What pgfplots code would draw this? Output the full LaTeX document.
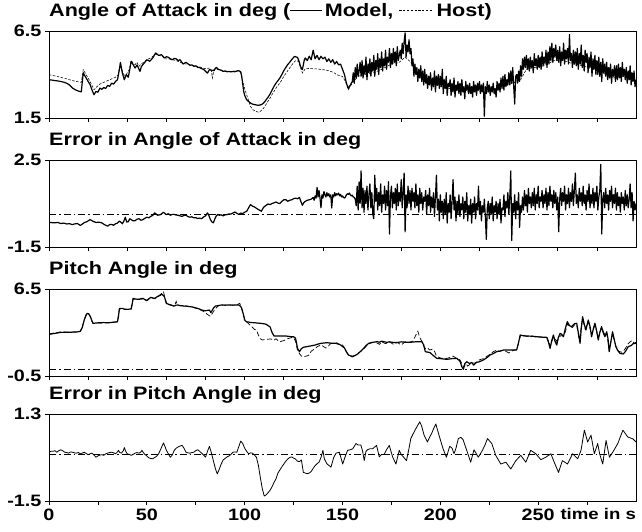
\documentclass[border=0pt]{standalone}
\usepackage{fontspec}
\setmainfont{Liberation Sans}[FakeStretch=1.2]
\usepackage{pgfplots}
\pgfplotsset{compat=1.18}
\newcommand{\solidsample}{\rule[0.3em]{1.75em}{1pt}}
\newcommand{\dashsample}{\leavevmode\xleaders\hbox{\rule[0.3em]{2.2pt}{0.6pt}\hspace{1.4pt}}\hskip 1.9em\relax}
\pgfplotsset{
 panel/.style={
  scale only axis, width=587pt, height=87pt, xmin=0, xmax=300,
  axis line style={black, line width=0.7pt},
  tick align=outside, major tick length=4pt, minor tick length=4pt,
  tick style={black, line width=0.7pt},
  xtick={0,20,...,280}, xticklabels={},
  ticklabel style={font=\bfseries\fontsize{16.5}{16.5}\selectfont},
  ytick pos=left, xtick pos=bottom,
  title style={at={(0,1)}, anchor=base west, yshift=9pt, inner sep=0pt, font=\bfseries\fontsize{18}{20}\selectfont},
  clip=true,
 },
 model/.style={black, line width=1.2pt, line join=round},
 host/.style={black, line width=0.55pt, dash pattern=on 2.5pt off 1.5pt},
 zero/.style={black, line width=0.6pt, dash pattern=on 7pt off 3pt on 1.5pt off 3pt},
}
\begin{document}
\begin{tikzpicture}
\path[use as bounding box] (0,0) rectangle (642pt,-531pt);
% ---------------- Panel 1 ----------------
\begin{axis}[panel, at={(49pt,-118pt)}, anchor=south west, ymin=1.5, ymax=6.5,
  ytick={1.5,6.5}, yticklabels={1.5,6.5},
  title={Angle of Attack in deg (\solidsample\,Model, \dashsample\,Host)}]
\addplot[host] coordinates {(0,3.99)(3,3.92)(6,3.84)(9,3.75)(12,3.65)(14,3.6)(16.5,3.55)(17.5,4.28)(19,3.99)(21,3.6)(23,3.13)(24.5,3.3)(26,3.45)(28,3.55)(30,3.65)(32,3.75)(34,3.84)(35.5,4.0)(36.5,4.76)(37.5,4.18)(38.5,3.95)(39.5,4.0)(41,4.28)(42,4.8)(43,4.65)(44,4.57)(45,4.7)(46,4.47)(47,4.6)(48,4.67)(50,4.85)(52,4.95)(54.5,5.18)(56,5.1)(58,5.05)(59,4.9)(61,4.9)(63,4.85)(65,4.8)(68,4.66)(70,4.6)(72,4.57)(74,4.52)(76,4.47)(78,4.4)(80,4.33)(82,4.37)(83,4.2)(83.5,3.8)(84,4.1)(85,4.33)(86.5,4.28)(88,4.22)(90,4.2)(92,4.18)(95,4.2)(97,4.22)(98,4.1)(99,3.61)(100,3.2)(101,2.84)(102,2.5)(103,2.17)(104,2.0)(105,1.92)(106,1.87)(107,1.84)(108,1.88)(109,1.98)(110,2.12)(111,2.3)(112,2.48)(113,2.65)(114,2.85)(115,3.03)(116.5,3.3)(118,3.51)(119,3.7)(120,3.89)(121,4.05)(122,4.22)(123,4.38)(124,4.53)(125,4.68)(126,4.8)(127.5,4.76)(128.5,4.4)(129.5,4.09)(130.5,4.25)(131,4.33)(133,4.35)(135,4.33)(137,4.32)(140,4.28)(142,4.24)(144,4.18)(146,4.08)(147,3.99)(149,3.92)(150,3.89)(151.5,3.6)(153,3.13)(155,3.51)(158,3.9)(162,4.0)(166,4.1)(170,4.3)(175,4.6)(179,4.7)(182,5.0)(185,4.7)(188,4.0)(192,3.6)(197,3.4)(202,3.3)(207,3.1)(212,3.0)(217,3.0)(222,3.0)(227,3.0)(232,3.3)(237,3.5)(241,3.7)(244,4.3)(248,4.4)(253,4.5)(258,4.8)(263,4.8)(268,4.6)(273,4.5)(278,4.3)(283,4.1)(288,3.8)(293,3.9)(298,3.7)(300,3.6)};
\addplot[model] coordinates {(0,3.70)(1.5,3.68)(3,3.65)(4.5,3.63)(6,3.6)(7.5,3.56)(9,3.5)(10.5,3.4)(12,3.22)(13.5,3.12)(15,3.05)(16.5,3.0)(17.5,4.1)(18.2,3.95)(19,3.8)(20,3.6)(21,3.42)(22,3.1)(23,2.84)(24,3.03)(25,2.98)(26,3.22)(27,3.15)(28,3.25)(29,3.2)(30,3.38)(31,3.32)(32,3.5)(33,3.45)(34,3.6)(35,3.7)(35.5,4.0)(36.5,4.66)(37.5,4.09)(38.5,3.7)(39.5,4.0)(40.5,3.84)(41.3,4.3)(42,4.76)(43,4.57)(44,4.37)(45,4.55)(46,4.3)(46.5,4.18)(47.2,4.45)(48,4.57)(49,4.7)(50,4.85)(51.5,4.76)(53,4.95)(54.5,5.24)(56,5.1)(57.5,5.14)(59,4.95)(60,5.02)(61,4.99)(62,4.9)(63,4.85)(64,4.92)(65,4.9)(66,4.8)(67,4.85)(68.5,4.6)(70,4.7)(71,4.62)(72,4.53)(73,4.55)(74,4.47)(75,4.5)(76,4.41)(77,4.4)(78,4.33)(79,4.3)(80,4.18)(81,4.08)(82,4.28)(83,4.25)(84,4.22)(85.5,4.41)(86.5,4.3)(87,4.28)(88,4.25)(89,4.18)(90,4.2)(91,4.16)(92,4.17)(93,4.15)(94,4.17)(95,4.16)(96,4.2)(97,4.22)(98,4.15)(98.5,3.89)(99.5,3.03)(100,2.8)(101,2.55)(102,2.45)(103,2.36)(104,2.3)(105,2.27)(106,2.25)(107,2.23)(108,2.25)(109,2.3)(110,2.4)(111,2.55)(112,2.7)(113,2.88)(114,3.1)(115,3.32)(116,3.5)(117,3.65)(118,3.8)(119,4.0)(120,4.22)(121,4.4)(122,4.57)(123,4.7)(124,4.85)(125,4.98)(125.5,5.04)(126.5,5.0)(127,4.99)(128,4.7)(128.5,4.47)(129.5,4.28)(130.5,4.85)(131,4.95)(132,4.8)(133,5.05)(134,4.85)(135,5.4)(136,4.9)(137,5.1)(138,4.85)(139,5.05)(140,4.9)(141,5.0)(142,4.75)(143,4.9)(144,4.7)(145,4.85)(146,4.6)(147,4.75)(148,4.55)(149,4.6)(150,4.3)(151,4.0)(152,3.5)(153,3.2)(154,3.4)
(155,3.6)(155.5,4.1)(156,3.5)(156.5,4.4)(157,3.8)(157.5,4.6)(158,3.9)(158.5,4.2)(159,4.7)(159.5,3.9)
(160,4.8)(160.5,3.8)(161,4.5)(161.5,4.0)(162,5.0)(162.5,3.7)(163,4.6)(163.5,4.1)(164,4.9)(164.5,3.9)
(165,4.7)(165.5,4.2)(166,5.1)(166.5,3.9)(167,4.8)(167.5,4.3)(168,5.2)(168.5,4.0)(169,4.9)(169.5,4.4)
(170,5.3)(170.5,4.2)(171,4.9)(171.5,4.5)(172,5.4)(172.5,4.3)(173,5.0)(173.5,4.7)(174,5.5)(174.5,4.4)
(175,5.2)(175.5,4.6)(176,5.5)(176.5,4.7)(177,5.3)(177.5,4.5)(178,5.6)(178.5,4.8)(179,5.1)(179.5,5.4)
(180,4.9)(180.5,5.8)(181,5.2)(181.5,5.9)(182,6.4)(182.5,5.0)(183,5.7)(183.5,5.3)(184,6.0)(184.5,5.2)
(185,5.5)(185.5,4.5)(186,4.9)(186.5,3.9)(187,4.6)(187.5,4.0)(188,4.4)(188.5,3.6)(189,4.3)(189.5,3.8)
(190,4.5)(190.5,3.6)(191,4.2)(191.5,3.4)(192,4.3)(192.5,3.5)(193,4.0)(193.5,3.2)(194,3.9)(194.5,3.4)
(195,4.1)(195.5,3.1)(196,3.8)(196.5,3.3)(197,4.2)(197.5,3.0)(198,3.9)(198.5,3.4)(199,4.0)(199.5,3.2)
(200,3.9)(200.5,3.3)(201,4.3)(201.5,2.9)(202,3.7)(202.5,3.2)(203,3.9)(203.5,2.8)(204,3.5)(204.5,3.3)
(205,3.7)(205.5,2.8)(206,3.5)(206.5,3.0)(207,3.8)(207.5,2.7)(208,3.4)(208.5,3.1)(209,3.6)(209.5,2.9)
(210,3.5)(210.5,2.8)(211,3.7)(211.5,3.0)(212,3.3)(212.5,2.6)(213,3.6)(213.5,3.1)(214,3.4)(214.5,2.9)
(215,3.5)(215.5,2.9)(216,3.3)(216.5,2.7)(217,3.6)(217.5,3.0)(218,3.4)(218.5,2.8)(219,3.5)(219.5,3.1)
(220,3.6)(220.5,2.9)(221,3.4)(221.5,3.0)(222,3.5)(222.5,1.6)(223,3.3)(223.5,2.9)(224,3.6)(224.5,3.0)
(225,3.4)(225.5,2.8)(226,3.3)(226.5,3.0)(227,3.5)(227.5,2.9)(228,3.2)(228.5,2.7)(229,3.6)(229.5,3.1)
(230,3.5)(230.5,3.0)(231,3.8)(231.5,3.2)(232,3.9)(232.5,3.1)(233,4.0)(233.5,3.3)(234,3.7)(234.5,3.4)
(235,4.1)(235.5,3.4)(236,4.2)(236.5,3.5)(237,4.4)(237.5,3.3)(238,2.3)(238.5,3.9)(239,4.0)(239.5,3.5)
(240,4.2)(240.5,3.6)(241,4.5)(241.5,3.9)(242,4.9)(242.5,4.3)(243,5.0)(243.5,4.4)(244,5.1)(244.5,4.3)
(245,4.9)(245.5,4.2)(246,5.0)(246.5,4.4)(247,4.8)(247.5,4.1)(248,5.2)(248.5,4.5)(249,4.9)(249.5,4.3)
(250,5.1)(250.5,4.4)(251,5.0)(251.5,4.3)(252,5.3)(252.5,4.5)(253,5.0)(253.5,4.6)(254,5.4)(254.5,4.4)
(255,5.3)(255.5,4.6)(256,5.6)(256.5,4.8)(257,5.8)(257.5,4.7)(258,5.5)(258.5,5.0)(259,5.7)(259.5,4.8)
(260,5.4)(260.5,4.7)(261,5.6)(261.5,4.5)(262,5.3)(262.5,4.8)(263,5.8)(263.5,4.6)(264,5.4)(264.5,4.9)
(265,5.5)(265.5,4.6)(266,6.3)(266.5,4.8)(267,5.2)(267.5,4.4)(268,5.4)(268.5,4.6)(269,5.3)(269.5,4.5)
(270,5.5)(270.5,4.3)(271,5.2)(271.5,4.6)(272,5.7)(272.5,4.4)(273,5.1)(273.5,4.2)(274,5.4)(274.5,4.7)
(275,5.2)(275.5,4.1)(276,5.0)(276.5,4.4)(277,5.3)(277.5,3.9)(278,4.9)(278.5,4.3)(279,5.1)(279.5,4.0)
(280,4.8)(280.5,4.0)(281,5.0)(281.5,3.9)(282,4.7)(282.5,3.6)(283,4.9)(283.5,4.1)(284,4.6)(284.5,3.9)
(285,4.7)(285.5,3.7)(286,4.4)(286.5,3.8)(287,4.6)(287.5,3.5)(288,4.3)(288.5,3.9)(289,4.5)(289.5,3.6)
(290,4.5)(290.5,3.7)(291,4.6)(291.5,3.8)(292,4.4)(292.5,3.6)(293,4.7)(293.5,3.9)(294,4.3)(294.5,3.7)
(295,4.4)(295.5,3.5)(296,4.2)(296.5,3.7)(297,4.5)(297.5,3.4)(298,4.1)(298.5,3.6)(299,4.2)(299.5,3.3)(300,3.7)};
\end{axis}
% ---------------- Panel 2 ----------------
\begin{axis}[panel, at={(49pt,-247pt)}, anchor=south west, ymin=-1.5, ymax=2.5,
  ytick={-1.5,2.5}, yticklabels={-1.5,2.5},
  title={Error in Angle of Attack in deg}]
\addplot[zero] coordinates {(0,0) (300,0)};
\addplot[model, line width=1.2pt] coordinates {(0,-0.36)(1.5,-0.38)(3,-0.39)(4.5,-0.37)(6,-0.42)(7.5,-0.4)(9,-0.44)(10.5,-0.43)(12,-0.47)(13,-0.44)(14.5,-0.42)(16,-0.51)(17,-0.45)(18,-0.38)(19.5,-0.33)(21,-0.24)(22.5,-0.32)(24,-0.37)(25.5,-0.36)(27,-0.39)(28.5,-0.48)(30,-0.54)(31,-0.47)(32,-0.46)(33,-0.5)(34,-0.43)(35,-0.4)(36,-0.31)(37,-0.38)(37.5,-0.43)(38.3,-0.3)(39,-0.13)(39.7,-0.35)(40.5,-0.34)(41.3,-0.2)(42,-0.24)(43,-0.3)(44,-0.29)(45,-0.22)(46,-0.2)(47,-0.27)(48,-0.24)(49,-0.18)(50,-0.13)(51,-0.16)(52,-0.09)(53,-0.05)(54,0.07)(55,0.0)(55.5,-0.04)(56.5,-0.02)(57,-0.01)(58,0.06)(58.5,0.1)(59.5,0.02)(60,-0.01)(61,0.03)(62,-0.04)(63,0.0)(64,0.0)(65,-0.03)(66,-0.04)(67,-0.07)(68,-0.09)(69,-0.05)(70,-0.04)(71,-0.1)(72,-0.13)(73,-0.11)(74,-0.16)(75,-0.15)(76,-0.19)(77,-0.17)(78,-0.2)(79,-0.12)(80,-0.07)(81,0.07)(81.7,-0.05)(82.5,-0.24)(83.3,-0.35)(84,-0.39)(84.8,-0.2)(85.5,-0.07)(86.3,0.0)(87,-0.04)(88,-0.02)(89,-0.07)(90,-0.02)(91,-0.01)(92,0.02)(93,0.02)(94,0.06)(95,0.11)(96,0.05)(97,0.0)(98,0.06)(99,0.04)(100,0.1)(101,0.14)(102,0.3)(103,0.45)(104,0.38)(105,0.34)(106,0.28)(107,0.22)(108,0.18)(108.5,0.14)(109.5,0.3)(110,0.35)(111,0.42)(112,0.48)(113,0.45)(114,0.5)(115,0.53)(116,0.57)(117,0.52)(118,0.5)(119,0.6)(120,0.67)(121,0.68)(122,0.6)(123,0.65)(124,0.67)(125,0.72)(126,0.75)(127,0.72)(128,0.78)(128.7,0.6)(129.5,0.42)(130.3,0.55)(131,0.6)(132,0.65)(133,0.67)(134,0.7)(135,0.78)(135.5,0.65)(136,0.85)(136.5,0.75)(137,1.24)(137.5,0.8)(138,1.1)(138.5,0.75)(139,0.3)(139.5,0.9)(140,0.75)(140.5,1.05)(141,0.9)(141.5,0.8)(142,1.0)(142.5,0.85)(143,0.95)(143.5,0.8)(144,0.9)(144.5,0.29)(145,0.9)(145.5,0.8)(146,1.0)(146.5,0.85)(147,0.95)(147.5,0.9)(148,0.98)(148.5,0.85)(149,0.92)(149.5,0.8)(150,0.85)(150.5,0.78)
(151,0.75)(151.5,0.8)(152,0.9)(152.5,0.95)(153,0.92)(153.5,0.98)(154,0.9)(154.5,0.85)(155,0.88)(155.5,0.8)(156,0.78)(156.5,0.7)
(157,0.4)(157.5,1.3)(158,0.2)(158.5,1.5)(159,0.5)(159.5,2.0)(160,0.3)(160.5,1.2)(161,0.1)(161.5,1.1)
(162,0.5)(162.5,1.3)(163,0.2)(163.5,0.9)(164,1.4)(164.5,0.3)(165,1.0)(165.5,0.0)(166,-0.2)(166.5,1.8)
(167,0.6)(167.5,1.2)(168,0.2)(168.5,1.0)(169,0.4)(169.5,1.4)(170,0.1)(170.5,0.9)(171,0.5)(171.5,1.3)
(172,0.2)(172.5,1.1)(173,0.4)(173.5,1.5)(174,-0.9)(174.5,0.8)(175,1.3)(175.5,0.3)(176,1.0)(176.5,0.5)
(177,1.2)(177.5,0.2)(178,1.4)(178.5,0.4)(179,1.0)(179.5,0.6)(180,1.6)(180.5,0.3)(181,1.1)(181.5,1.9)
(182,-0.8)(182.5,0.9)(183,0.3)(183.5,1.3)(184,0.5)(184.5,1.1)(185,0.2)(185.5,1.2)(186,0.6)(186.5,1.0)
(187,0.3)(187.5,1.4)(188,0.4)(188.5,0.9)(189,0.1)(189.5,1.2)(190,0.5)(190.5,1.0)(191,0.2)(191.5,0.8)
(192,0.6)(192.5,1.1)(193,0.0)(193.5,0.9)(194,0.4)(194.5,1.2)(195,0.1)(195.5,0.8)(196,0.3)(196.5,1.0)
(197,-0.1)(197.5,0.8)(198,1.8)(198.5,0.2)(199,0.7)(199.5,-0.3)(200,0.9)(200.5,0.1)(201,0.6)(201.5,-0.2)
(202,0.7)(202.5,0.0)(203,1.0)(203.5,-0.4)(204,0.5)(204.5,0.1)(205,0.9)(205.5,-0.2)(206,0.6)(206.5,1.6)
(207,0.2)(207.5,0.8)(208,-0.3)(208.5,0.6)(209,0.0)(209.5,0.9)(210,-0.1)(210.5,0.5)(211,0.2)(211.5,0.8)
(212,-0.2)(212.5,0.6)(213,0.1)(213.5,1.0)(214,-0.3)(214.5,0.4)(215,0.0)(215.5,0.7)(216,-0.4)(216.5,0.5)
(217,0.1)(217.5,0.8)(218,-0.2)(218.5,0.5)(219,0.2)(219.5,1.3)(220,0.0)(220.5,0.6)(221,-0.3)(221.5,0.4)
(222,0.1)(222.5,0.7)(223,-0.1)(223.5,-1.15)(224,0.3)(224.5,0.6)(225,-0.2)(225.5,0.5)(226,0.0)(226.5,0.8)
(227,-0.3)(227.5,0.4)(228,0.1)(228.5,0.6)(229,-0.2)(229.5,0.5)(230,0.0)(230.5,0.7)(231,-0.4)(231.5,0.3)
(232,0.2)(232.5,0.9)(233,-0.1)(233.5,0.6)(234,0.3)(234.5,1.0)(235,0.0)(235.5,0.8)(236,2.0)(236.5,-1.2)
(237,0.5)(237.5,0.1)(238,0.9)(238.5,-0.2)(239,0.6)(239.5,0.2)(240,1.0)(240.5,-0.6)(241,0.4)(241.5,0.1)
(242,0.8)(242.5,0.2)(243,1.1)(243.5,0.4)(244,0.9)(244.5,0.1)(245,1.2)(245.5,0.5)(246,0.8)(246.5,0.3)
(247,1.0)(247.5,0.4)(248,1.2)(248.5,0.2)(249,0.9)(249.5,0.5)(250,1.3)(250.5,0.3)(251,0.8)(251.5,0.6)
(252,1.1)(252.5,0.3)(253,0.9)(253.5,0.5)(254,1.2)(254.5,0.2)(255,1.0)(255.5,0.4)(256,1.3)(256.5,0.6)
(257,0.9)(257.5,0.3)(258,1.1)(258.5,0.5)(259,1.0)(259.5,0.2)(260,0.8)(260.5,-0.8)(261,0.7)(261.5,1.2)
(262,0.4)(262.5,1.0)(263,0.6)(263.5,1.3)(264,0.2)(264.5,0.9)(265,0.5)(265.5,1.2)(266,0.3)(266.5,1.0)
(267,0.6)(267.5,1.4)(268,0.4)(268.5,1.1)(269,1.9)(269.5,0.5)(270,0.9)(270.5,0.3)(271,1.2)(271.5,0.6)
(272,1.0)(272.5,0.4)(273,1.3)(273.5,0.5)(274,0.9)(274.5,0.2)(275,1.1)(275.5,0.6)(276,1.4)(276.5,0.3)
(277,0.9)(277.5,0.5)(278,1.2)(278.5,0.3)(279,1.0)(279.5,0.6)(280,1.3)(280.5,0.2)(281,0.8)(281.5,1.1)
(282,2.3)(282.5,-0.9)(283,0.7)(283.5,1.0)(284,0.3)(284.5,1.2)(285,0.5)(285.5,0.9)(286,0.2)(286.5,1.1)
(287,0.6)(287.5,1.3)(288,0.3)(288.5,0.9)(289,0.5)(289.5,1.2)(290,0.2)(290.5,1.0)(291,0.4)(291.5,0.8)
(292,0.1)(292.5,1.0)(293,0.5)(293.5,0.8)(294,0.2)(294.5,1.1)(295,0.4)(295.5,0.9)(296,0.3)(296.5,0.7)
(297,1.4)(297.5,0.3)(298,1.0)(298.5,-0.3)(299,0.6)(299.5,0.2)(300,0.5)};
\end{axis}
% ---------------- Panel 3 ----------------
\begin{axis}[panel, at={(49pt,-376pt)}, anchor=south west, ymin=-0.5, ymax=6.5,
  ytick={-0.5,6.5}, yticklabels={-0.5,6.5},
  title={Pitch Angle in deg}]
\addplot[zero] coordinates {(0,0) (300,0)};
\addplot[host, line width=0.7pt, dash pattern=on 5pt off 2.5pt] coordinates {(0,2.88)(3,2.98)(6,3.05)(10,3.02)(14,3.05)(16,3.1)(17,3.45)(18,4.05)(19,4.45)(19.5,4.54)(20.3,4.5)(21,4.3)(21.8,3.95)(22.5,3.72)(25,3.76)(30,3.78)(35,3.85)(35.5,4.4)(36,4.9)(38,4.88)(40,4.84)(42,4.88)(43,5.7)(45,5.65)(47,5.7)(49,5.62)(50,5.6)(52,5.82)(54,5.72)(56,5.95)(57.5,6.12)(58.5,6.3)(59,5.95)(60,5.38)(62,5.25)(64,5.1)(65,5.5)(65.5,5.2)(67,5.18)(70,5.12)(72,5.1)(74,5.0)(76,4.9)(78,4.78)(80,4.6)(81,4.45)(82.5,4.3)(83.5,4.55)(85,4.9)(86.5,5.15)(88,5.22)(92,5.2)(96,5.23)(97.5,5.35)(98.3,5.0)(99,4.6)(100,4.1)(101,3.9)(102,3.7)(103.5,3.5)(105,3.25)(106,3.2)(107,2.8)(108,2.5)(109,2.4)(111,2.45)(113,2.48)(114,2.45)(115,2.38)(116,2.5)(117,2.35)(118,2.26)(120,2.35)(122,2.5)(124,2.6)(125,2.58)(126,2.3)(127,1.6)(128,1.3)(129,1.1)(130,1.05)(132,1.12)(133,1.2)(134,1.5)(136,1.7)(137,1.85)(139,2.0)(140,1.9)(141.5,1.75)(142.5,1.85)(144,2.12)(146,2.13)(148,2.05)(150,2.0)(151,1.75)(152,1.45)(153,1.2)(155,1.1)(157,1.2)(159,1.45)(161,1.7)(163,2.05)(165,2.18)(167,2.2)(169,2.05)(170,2.25)(172,2.1)(174,2.25)(176,2.05)(178,2.2)(180,2.0)(182,2.25)(184,2.2)(186,2.3)(187.5,2.8)(188.5,3.1)(189.5,2.6)(190.5,2.3)(191.5,1.9)(192.5,1.7)(193.5,1.75)(194.5,1.6)(196,1.65)(197,1.5)(198,1.1)(200,0.95)(203,0.9)(205,1.0)(206.5,1.1)(208,0.95)(210,0.8)(211,0.5)(212,0.2)(213,0.5)(214,0.3)(216,0.55)(218,0.55)(220,0.8)(222,0.9)(224,1.1)(225.4,1.25)(227,1.45)(229,1.6)(230,1.5)(232,1.55)(234,1.45)(235,1.35)(236.5,1.5)(238,1.6)(239,1.62)(240,2.2)(241,2.75)(243,2.72)(245,2.68)(247,2.72)(249,2.62)(251,2.65)(253,2.58)(254.5,2.6)(255.3,2.3)(256.1,1.9)(257,2.3)(257.8,2.6)(258.6,2.5)(259.5,2.3)(260.5,2.55)(261.5,2.75)(262.9,2.72)(264,3.1)(264.9,3.7)(266,3.5)(267.5,3.4)(268.5,3.6)(269.7,3.6)(271,2.4)(272.7,4.1)(274,3.3)(275.6,3.9)(277.3,2.8)(279,3.6)(280.7,2.6)(282.4,3.4)(284.1,2.8)(285,3.0)(286.3,1.6)(288,2.9)(289.7,1.9)(291,1.5)(293,1.4)(294.5,1.7)(296,2.1)(297,2.25)(298,2.35)(299,2.15)(300,2.2)};
\addplot[model] coordinates {(0,2.85)(3,2.93)(6,3.01)(10,3.02)(14,3.04)(16,3.09)(17,3.4)(18,4.0)(19,4.4)(19.5,4.54)(20.3,4.5)(21,4.33)(21.8,4.0)(22.5,3.74)(25,3.78)(28,3.8)(30,3.78)(33,3.83)(35,3.87)(35.5,4.3)(36,4.94)(37.5,4.94)(38.5,4.88)(40,4.86)(42,4.9)(42.5,5.3)(43,5.75)(44,5.7)(45,5.68)(46,5.67)(47,5.72)(48,5.75)(49,5.65)(50,5.56)(51,5.7)(52,5.83)(53,5.78)(54,5.75)(55,5.85)(56,5.93)(57,6.0)(57.5,6.1)(58.3,6.0)(59,5.88)(59.5,5.6)(60,5.34)(61,5.28)(62,5.21)(63,5.18)(64,5.13)(65,5.2)(66,5.21)(67,5.16)(68,5.16)(69,5.12)(70,5.13)(71,5.1)(72,5.08)(73,5.06)(74,5.03)(75,4.98)(76,4.94)(77,4.88)(78,4.81)(79,4.78)(80,4.75)(81,4.78)(82,4.81)(82.7,4.6)(83.3,4.75)(84,4.95)(85,5.13)(86,5.15)(88,5.21)(90,5.2)(92,5.21)(94,5.2)(96,5.22)(97,5.21)(98,5.1)(98.5,4.94)(99.3,4.5)(100,4.0)(101,3.85)(102,3.85)(103,3.8)(105,3.79)(106,3.77)(108,3.74)(110,3.7)(111,3.66)(112,3.55)(113,3.45)(114,3.0)(115,2.72)(118,2.72)(121,2.72)(124,2.66)(125,2.66)(126,2.55)(126.7,2.0)(127,1.72)(128,1.46)(129,1.7)(130,1.81)(131,1.84)(133,1.9)(136,1.99)(137,2.05)(139,2.13)(142,2.18)(145,2.13)(147,2.15)(149,2.0)(151,1.75)(152,1.45)(153,1.2)(155,1.05)(156.5,1.15)(158,1.3)(160.8,1.72)(162,1.95)(163.4,2.13)(165,2.2)(167.6,2.26)(169,2.22)(170,2.3)(172.7,2.21)(174,2.25)(176,2.2)(177.8,2.19)(180,2.25)(183,2.21)(185,2.22)(188,2.26)(190.6,2.26)(191.5,2.0)(192.3,1.46)(194.8,1.38)(196,1.2)(198.2,0.92)(200,0.9)(203.3,0.84)(206,0.9)(208.4,0.92)(210,0.7)(211,0.25)(211.8,0.04)(212.5,0.5)(213.5,0.65)(215,0.5)(216,0.6)(217,0.38)(218.5,0.6)(220,0.65)(222,0.79)(224,1.0)(225.4,1.19)(227,1.3)(228.8,1.46)(230.5,1.5)(232.2,1.59)(234,1.6)(236.5,1.59)(239,1.59)(240,2.2)(240.8,2.8)(242,2.75)(244.2,2.72)(247,2.7)(249.3,2.66)(252,2.63)(254.4,2.61)(255.3,2.2)(256.1,1.72)(257,2.4)(257.8,2.8)(258.6,2.3)(259.5,1.99)(260.3,2.6)(261.2,2.93)(262.1,2.85)(262.9,2.66)(264,3.4)(264.9,3.87)(266,3.55)(267.1,3.47)(268.5,3.7)(269.7,3.74)(270.5,3.0)(271.4,2.13)(272,3.3)(272.7,4.27)(273.5,3.7)(274.4,3.2)(275,3.6)(275.6,4.0)(276.5,3.5)(277.3,2.66)(278.2,3.3)(279,3.74)(279.8,3.2)(280.7,2.4)(281.5,3.0)(282.4,3.47)(283.2,3.0)(284.1,2.66)(285,3.06)(285.7,2.5)(286.3,1.46)(287.2,2.3)(288,3.06)(288.8,2.5)(289.7,1.86)(290.7,1.55)(291.8,1.32)(293.5,1.27)(294.7,1.5)(296,1.86)(297.5,1.95)(298.5,2.1)(300,2.13)};
\end{axis}
% ---------------- Panel 4 ----------------
\begin{axis}[panel, at={(49pt,-501pt)}, anchor=south west, ymin=-1.5, ymax=1.3,
  ytick={-1.5,1.3}, yticklabels={-1.5,1.3},
  xtick={0,50,...,250}, xticklabels={0,50,100,150,200,250},
  minor xtick={25,75,...,275},
  extra x ticks={300}, extra x tick labels={\llap{time in s}},
  extra x tick style={tick style={draw=none}, ticklabel style={font=\bfseries\fontsize{15.5}{15.5}\selectfont}},
  title={Error in Pitch Angle in deg}]
\addplot[zero] coordinates {(0,0) (300,0)};
\addplot[black, line width=0.8pt, line join=round] coordinates {(0,0.07)(1,0.1)(2,0.1)(3,0.12)(4,0.07)(5,0.12)(6,0.15)(7,0.12)(8,0.07)(9,0.06)(10,0.04)(11,0.08)(12,0.07)(13,0.05)(14,0.04)(15,0.06)(16,0.02)(17,0.04)(18,0.07)(19,0.03)(20,-0.01)(21,0.02)(22,0.04)(23,-0.02)(24,-0.09)(25,-0.05)(26,-0.02)(27,-0.01)(28,-0.03)(29,0.02)(30,0.04)(31,0.06)(32,0.07)(33,0.05)(34,0.02)(35,0.08)(35.5,0.13)(36.2,0.06)(37,0.04)(38,0.12)(38.5,0.22)(39.2,0.1)(40,0.02)(41,0.0)(42,-0.03)(43,0.0)(44,0.04)(45,0.06)(46,0.04)(47,0.08)(47.5,0.13)(48.3,0.05)(49,0.0)(50,-0.05)(51,-0.11)(52,-0.13)(53,-0.14)(54,-0.1)(55,-0.06)(56,0.02)(57,0.15)(58,0.3)(58.5,0.37)(59.3,0.25)(60,0.13)(61,0.02)(62,-0.09)(63,-0.02)(64,0.13)(65,0.2)(66,0.24)(67,0.27)(68,0.29)(69,0.2)(70,0.07)(71,0.05)(72,0.04)(73,0.06)(74,0.07)(75,0.12)(76,0.15)(77,0.1)(78,0.04)(79,-0.02)(80,-0.09)(81,0.1)(82,0.26)(83,0.05)(84,-0.2)(85,-0.45)(86,-0.63)(87,-0.48)(88,-0.31)(89,-0.18)(90,-0.13)(91,-0.08)(92,-0.05)(93,0.0)(94,0.07)(95,0.08)(96,0.07)(97,0.25)(98,0.43)(99,0.35)(100,0.2)(101,0.1)(102,0.02)(103,0.05)(104,0.04)(105,-0.02)(106,-0.09)(107,-0.35)(108,-0.74)(109,-1.1)(110,-1.34)(111,-1.3)(112,-1.23)(113,-1.15)(114,-1.04)(115,-0.9)(116,-0.79)(117,-0.6)(118,-0.5)(119,-0.4)(120,-0.31)(121,-0.22)(122,-0.15)(123,-0.1)(124,-0.08)(125,-0.12)(126,-0.15)(127,-0.22)(128,-0.23)(129,-0.18)(130,-0.58)(131,-0.6)(132,-0.62)(133,-0.6)(134,-0.55)(135,-0.45)(136,-0.36)(137,-0.3)(138,-0.25)(139,-0.1)(140,0.13)(140.7,-0.14)(142,-0.3)(144.1,-0.41)(145.5,-0.1)(146.7,0.04)(148.4,0.07)(150.1,-0.31)(151.5,-0.05)(152.6,0.13)(154,0.15)(155.2,0.18)(156.9,0.35)(158,0.3)(159.4,0.3)(160.3,0.1)(161.1,-0.2)(162,0.1)(162.8,0.15)(164,0.18)(165.4,0.18)(167.4,0.29)(168.8,-0.08)(170,0.0)(171.3,0.0)(172.5,0.15)(173.9,0.29)(175.6,-0.08)(177.3,-0.31)(179,0.13)(180,0.0)(180.7,-0.05)(182.7,-0.2)(184,0.2)(184.9,0.51)(186,0.65)(187.5,0.83)(189.5,1.05)(190.5,0.9)(191.7,0.62)(193.4,0.4)(194.5,0.55)(195.6,0.68)(196.7,0.85)(197.7,0.98)(198.5,0.8)(199.4,0.6)(201.4,0.18)(203.1,-0.09)(204.8,0.26)(206,0.2)(207,0.02)(208,0.2)(209.2,0.51)(210.5,0.55)(211.6,0.48)(213.8,0.07)(215.5,-0.25)(217.2,0.15)(219.4,-0.09)(221.5,0.13)(222.8,0.3)(224.1,0.51)(226.3,0.35)(228.3,-0.03)(230.9,-0.31)(233.5,-0.25)(236,-0.47)(238.6,-0.2)(241.1,-0.03)(243.7,-0.25)(246.2,0.13)(248.8,0.02)(251.4,-0.17)(253.9,-0.09)(256.5,0.02)(258.2,-0.25)(260.4,-0.58)(262.4,-0.2)(265,-0.31)(267.6,0.02)(270.2,-0.14)(271.9,0.13)(273.6,0.78)(275.3,0.4)(277,0.62)(278.7,0.02)(280.4,0.35)(281.5,0.0)(283,-0.31)(284.7,0.45)(286.4,-0.09)(288.1,0.07)(290.7,0.35)(293.3,0.78)(295.8,0.56)(298.4,0.5)(300,0.4)};
\end{axis}
\end{tikzpicture}
\end{document}
